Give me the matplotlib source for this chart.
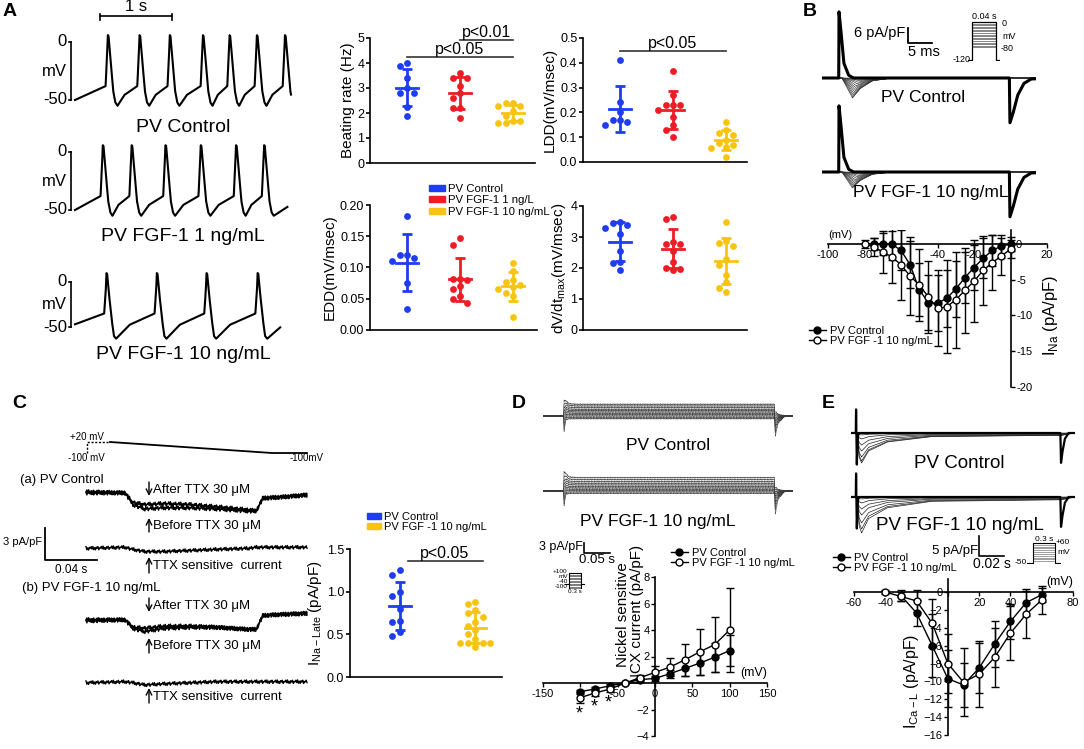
import numpy as np
import matplotlib.pyplot as plt
from matplotlib.patches import Patch
from matplotlib.lines import Line2D

plt.rcParams['font.family'] = ['Liberation Sans', 'DejaVu Sans']
plt.rcParams['axes.linewidth'] = 1.2

W, H = 1084, 749
BLUE, RED, YEL = '#1e3cf0', '#ee1c25', '#f7c511'

#%% data -------------------------------------------------------------
groups3 = ['PV Control', 'PV FGF-1 1 ng/L', 'PV FGF-1 10 ng/mL']

beat_ctrl = [4.0, 3.9, 3.4, 3.0, 2.8, 2.8, 2.25, 1.9]
beat_1ng = [3.6, 3.4, 3.4, 3.1, 2.8, 2.6, 2.2, 2.2, 1.8]
beat_10ng = [2.4, 2.4, 2.3, 2.3, 2.1, 1.9, 1.7, 1.7, 1.6, 1.6]

ldd_ctrl = [0.41, 0.24, 0.20, 0.17, 0.17, 0.16, 0.15]
ldd_1ng = [0.365, 0.27, 0.23, 0.23, 0.23, 0.21, 0.18, 0.15, 0.13, 0.10]
ldd_10ng = [0.16, 0.13, 0.115, 0.11, 0.09, 0.075, 0.07, 0.06, 0.055, 0.02]

edd_ctrl = [0.183, 0.12, 0.12, 0.115, 0.11, 0.075, 0.033]
edd_1ng = [0.147, 0.136, 0.082, 0.082, 0.08, 0.07, 0.065, 0.054, 0.049, 0.043]
edd_10ng = [0.107, 0.095, 0.08, 0.077, 0.072, 0.068, 0.066, 0.059, 0.055, 0.02]

dvdt_ctrl = [3.5, 3.45, 3.4, 3.3, 3.1, 2.55, 2.2, 2.15, 1.93]
dvdt_1ng = [3.64, 3.58, 2.84, 2.78, 2.76, 2.55, 2.2, 2.0, 1.98, 1.93]
dvdt_10ng = [3.5, 2.88, 2.8, 2.7, 2.3, 2.1, 1.78, 1.55, 1.37, 1.21]

# action potential recordings: peak times (s), peak / trough / take-off voltages (mV)
ap_peaks = [[0.46, 0.90, 1.32, 1.78, 2.15, 2.53, 2.92],
            [0.39, 0.79, 1.26, 1.75, 2.24, 2.63],
            [0.44, 1.14, 1.83, 2.54]]
ap_end = [3.0, 2.95, 2.85]
ap_peak_mv = [8, 8, 12]
ap_trough_mv = [-55, -55, -63]
ap_takeoff_mv = [-38, -38, -35]
ap_names = ['PV Control', 'PV FGF-1 1 ng/mL', 'PV FGF-1 10 ng/mL']

# I_Na I-V (B)
na_v_ctrl = [-75, -70, -65, -60, -55, -50, -45, -40, -35, -30, -25, -20, -15, -10, -5, 0]
na_i_ctrl = [0, 0, 0, -0.9, -2.9, -6.4, -8.2, -8.3, -7.6, -6.3, -4.7, -3.3, -2.0, -0.9, -0.3, 0]
na_e_ctrl = [0.8, 1.5, 2.2, 2.8, 3.3, 3.7, 3.8, 3.9, 4.0, 3.9, 3.6, 3.2, 2.8, 2.2, 1.6, 1.0]
na_v_fgf = [-80, -75, -70, -65, -60, -55, -50, -45, -40, -35, -30, -25, -20, -15, -10, -5, 0]
na_i_fgf = [0, -0.4, -1.1, -1.8, -2.9, -4.5, -5.7, -7.4, -9.0, -8.8, -7.8, -6.5, -5.2, -3.7, -2.6, -1.7, -0.7]
na_e_fgf = [0.5, 1.3, 2.9, 3.6, 5.0, 5.5, 5.0, 5.0, 5.3, 6.5, 6.7, 6.0, 5.7, 4.8, 3.8, 2.6, 1.2]

# I_Na current families (B): peak amplitude (pA/pF) and time to peak (ms) of each sweep
na_fam_ctrl = [-0.2, -0.6, -1.1, -1.7, -2.3, -3.1, -3.8, -4.6, -5.4, -6.2, -6.9, -7.6, -8.0]
na_fam_fgf = [-0.2, -0.5, -0.9, -1.4, -1.9, -2.5, -3.1, -3.7, -4.3, -5.0, -5.5, -6.0, -6.4]
na_fam_tpk = [4.6, 4.4, 4.2, 4.0, 3.8, 3.6, 3.4, 3.3, 3.2, 3.1, 3.0, 2.9, 2.8]
na_steps = [-80, -75, -70, -65, -60, -55, -50, -45, -40, -35, -30, -25, -20, -15, -10, -5, 0]

# late I_Na (C)
nal_ctrl = [1.25, 1.2, 1.0, 0.95, 0.8, 0.66, 0.65, 0.53, 0.48]
nal_fgf = [0.88, 0.85, 0.78, 0.75, 0.7, 0.65, 0.6, 0.55, 0.5, 0.45, 0.4, 0.4, 0.4, 0.4, 0.35]

# TTX traces (C): knots (ms, pA/pF)
ttx_t = [0, 30, 36, 45, 60, 80, 100, 125, 131, 136, 150, 170]
ttx_after_a = [0.1, 0.0, -0.9, -1.1, -1.0, -1.1, -1.3, -1.6, -1.7, -0.5, -0.4, -0.2]
ttx_before_a = [0.0, 0.0, -1.1, -1.5, -1.4, -1.4, -1.5, -1.7, -1.7, -0.5, -0.4, -0.2]
ttx_after_b = [0.1, 0.1, -0.6, -0.7, -0.5, -0.5, -0.6, -0.8, -0.8, 0.5, 0.6, 0.7]
ttx_before_b = [0.0, 0.1, -0.7, -1.0, -0.7, -0.6, -0.6, -0.8, -0.8, 0.5, 0.6, 0.7]
wiggle = [0, 0.3, -0.15, 0.35, -0.25, 0.1, -0.3, 0.2, -0.05, 0.3, -0.3, 0.05]

# NCX I-V (D)
ncx_v = [-100, -80, -60, -40, -20, 0, 20, 40, 60, 80, 100]
ncx_ctrl = [-0.65, -0.45, -0.2, 0.0, 0.25, 0.35, 0.7, 1.1, 1.5, 1.95, 2.45]
ncx_ctrl_e = [0.15, 0.15, 0.1, 0.1, 0.15, 0.2, 0.3, 0.6, 0.9, 1.1, 1.2]
ncx_fgf = [-1.1, -0.75, -0.45, 0.0, 0.4, 0.8, 1.2, 1.75, 2.35, 2.9, 4.0]
ncx_fgf_e = [0.4, 0.25, 0.2, 0.1, 0.2, 0.45, 0.7, 1.2, 1.75, 2.1, 3.2]
ncx_star_v = [-100, -80, -60]
# NCX sweep families (D): steady level of each sweep (pA/pF)
ncx_fam_ctrl = [3.5, 3.0, 2.5, 2.0, 1.6, 1.2, 0.8, 0.4, 0.0, -0.4, -0.8]
ncx_fam_fgf = [4.0, 3.4, 2.8, 2.3, 1.8, 1.3, 0.9, 0.5, 0.1, -0.3, -0.7]

# I_Ca-L I-V (E)
ca_v_ctrl = [-30, -20, -10, 0, 10, 20, 30, 40, 50, 60]
ca_i_ctrl = [-0.4, -2.35, -6.0, -9.7, -10.4, -8.5, -5.8, -3.3, -1.2, -0.3]
ca_e_ctrl = [0.6, 1.5, 3.5, 3.2, 2.5, 2.8, 2.6, 2.0, 1.5, 0.8]
ca_v_fgf = [-40, -30, -20, -10, 0, 10, 20, 30, 40, 50, 60]
ca_i_fgf = [0, -0.5, -1.0, -3.5, -8.0, -10.1, -9.2, -7.3, -4.6, -2.5, -0.9]
ca_e_fgf = [0.2, 0.5, 1.2, 2.7, 3.3, 3.8, 3.7, 3.3, 3.0, 2.6, 1.6]
# I_Ca-L sweep families (E): peak amplitude of each sweep (pA/pF)
ca_fam_ctrl = [-0.5, -1.5, -3.0, -4.5, -6.0, -7.0, -7.5]
ca_fam_fgf = [-0.5, -1.5, -3.0, -4.5, -6.5, -8.0, -9.0]

#%% helpers ------------------------------------------------------------
fig = plt.figure(figsize=(W / 100, H / 100), dpi=100)
ov = fig.add_axes([0, 0, 1, 1], zorder=10)
ov.set_xlim(0, W)
ov.set_ylim(H, 0)
ov.axis('off')
ov.patch.set_alpha(0)


def cal_axes(xa, xb, ya, yb, xlim, ylim):
    """axes placed so that the pixel/value pairs xa, xb, ya, yb line up"""
    sx = (xb[0] - xa[0]) / (xb[1] - xa[1])
    sy = (yb[0] - ya[0]) / (yb[1] - ya[1])
    x0 = xa[0] + (xlim[0] - xa[1]) * sx
    x1 = xa[0] + (xlim[1] - xa[1]) * sx
    yt = ya[0] + (ylim[1] - ya[1]) * sy
    yb_ = ya[0] + (ylim[0] - ya[1]) * sy
    ax = fig.add_axes([x0 / W, 1 - yb_ / H, (x1 - x0) / W, (yb_ - yt) / H])
    ax.set_xlim(xlim)
    ax.set_ylim(ylim)
    ax.patch.set_alpha(0)
    return ax


def bare(ax):
    ax.axis('off')
    return ax


def swarm(vals, px_per_unit, dx, dot=7):
    vals = np.asarray(vals, float)
    xs = np.zeros(len(vals))
    placed = []
    for i in np.argsort(vals)[::-1]:
        for k in [0, -1, 1, -2, 2, -3, 3]:
            if all(kk != k or abs(vals[i] - vv) * px_per_unit >= dot for kk, vv in placed):
                break
        placed.append((k, vals[i]))
        xs[i] = k * dx
    return xs


def dot_plot(ax, data, colors, ypx, dx, mw, ylabel, ticks, fmt):
    for i, (vals, c) in enumerate(zip(data, colors)):
        x0 = i + 1
        ax.scatter(x0 + swarm(vals, ypx, dx), vals, s=24, color=c, zorder=3, lw=0)
        m, sd = np.mean(vals), np.std(vals, ddof=1)
        ax.plot([x0 - mw, x0 + mw], [m, m], color=c, lw=2)
        ax.errorbar(x0, m, yerr=sd, color=c, capsize=3.8, elinewidth=2, capthick=2)
    for s in ['top', 'right']:
        ax.spines[s].set_visible(False)
    ax.set_xticks([])
    ax.set_yticks(ticks)
    ax.set_yticklabels([fmt.format(t) for t in ticks])
    ax.tick_params(axis='y', length=3, width=1.2, labelsize=9, pad=1)
    ax.set_ylabel(ylabel, fontsize=11, labelpad=2)


def bracket(ax, x0, x1, y, label):
    ax.plot([x0, x1], [y, y], color='#333333', lw=1.2, clip_on=False)
    ax.text((x0 + x1) / 2, y, label, ha='center', va='bottom', fontsize=11.5)


def iv_axes(ax):
    for s in ['top', 'right']:
        ax.spines[s].set_visible(False)
    ax.spines['left'].set_position(('data', 0))
    ax.spines['bottom'].set_position(('data', 0))
    ax.tick_params(length=3, width=1, labelsize=8, pad=1)


def iv_series(ax, v, i, e, filled):
    ax.errorbar(v, i, yerr=e, color='black', lw=1, capsize=3, capthick=1,
                marker='o', ms=5, mfc='black' if filled else 'white', mec='black',
                mew=1, zorder=3 if filled else 4)


def iv_legend(ax, x, y):
    ax.legend(handles=[Line2D([], [], color='black', marker='o', ms=5, lw=1),
                       Line2D([], [], color='black', marker='o', ms=5, lw=1, mfc='white')],
              labels=['PV Control', 'PV FGF -1 10 ng/mL'], loc='upper left',
              bbox_to_anchor=(x / W, 1 - y / H), bbox_transform=fig.transFigure,
              frameon=False, handlelength=1.6, handletextpad=0.3, labelspacing=0.05,
              borderpad=0, fontsize=8)


#%% Panel A ------------------------------------------------------------
ov.text(3, 12, 'A', fontsize=14, fontweight='bold', va='center')

ap_cal = [((42, 0), (100, -50)), ((152, 0), (210, -50)), ((282, 0), (327, -50))]
ap_label_mv = [-74, -73, -81]
for k in range(3):
    ax = bare(cal_axes((75, 0), (147, 1), ap_cal[k][0], ap_cal[k][1],
                       (-0.1, 3.05), (-85, 18)))
    pk = ap_peaks[k]
    kt, kv = [], []
    first_gap = pk[0] - 0.04
    kt += [0.0, first_gap * 0.5]
    kv += [ap_takeoff_mv[k] - 12, ap_takeoff_mv[k] - 6]
    for j, p in enumerate(pk):
        kt += [p - 0.035, p - 0.012, p - 0.004, p + 0.006, p + 0.03, p + 0.07, p + 0.10, p + 0.13]
        kv += [ap_takeoff_mv[k], -8, ap_peak_mv[k] - 2, ap_peak_mv[k] - 3, -12, -42,
               ap_trough_mv[k] + 3, ap_trough_mv[k]]
        nxt = pk[j + 1] - 0.035 if j + 1 < len(pk) else None
        if nxt is not None:
            kt += [p + 0.13 + (nxt - p - 0.13) * 0.35]
            kv += [ap_trough_mv[k] + (ap_takeoff_mv[k] - ap_trough_mv[k]) * 0.55]
    kt += [ap_end[k]]
    kv += [ap_trough_mv[k] + (ap_takeoff_mv[k] - ap_trough_mv[k]) * 0.45]
    tt = np.linspace(0, ap_end[k], 1500)
    ax.plot(tt, np.interp(tt, kt, kv), color='black', lw=1.5)
    # voltage scale bar
    ax.plot([-0.06, -0.06], [0, -50], color='black', lw=1.2, clip_on=False)
    ax.plot([-0.09, -0.06], [0, 0], color='black', lw=1.2, clip_on=False)
    ax.plot([-0.09, -0.06], [-50, -50], color='black', lw=1.2, clip_on=False)
    ax.text(-0.11, 0, '0', ha='right', va='center', fontsize=12)
    ax.text(-0.11, -25, 'mV', ha='right', va='center', fontsize=12)
    ax.text(-0.11, -50, '-50', ha='right', va='center', fontsize=12)
    ax.text(1.5, ap_label_mv[k], ap_names[k], ha='center', va='center', fontsize=14)
    if k == 0:
        ax.plot([0.35, 1.35], [22, 22], color='black', lw=1.2, clip_on=False)
        ax.plot([0.35, 0.35], [19, 24], color='black', lw=1.2, clip_on=False)
        ax.plot([1.35, 1.35], [19, 24], color='black', lw=1.2, clip_on=False)
        ax.text(0.85, 24, '1 s', ha='center', va='bottom', fontsize=12)

cols3 = [BLUE, RED, YEL]
ax = cal_axes((407, 1), (460, 2), (163, 0), (38, 5), (0.3, 3.42), (0, 5))
dot_plot(ax, [beat_ctrl, beat_1ng, beat_10ng], cols3, 25, 0.14, 0.2,
         'Beating rate (Hz)', [0, 1, 2, 3, 4, 5], '{:g}')
bracket(ax, 1, 3, 4.25, 'p<0.05')
bracket(ax, 2, 3, 4.9, 'p<0.01')

ax = cal_axes((620, 1), (673, 2), (162, 0), (38, 0.5), (0.3, 3.4), (0, 0.5))
dot_plot(ax, [ldd_ctrl, ldd_1ng, ldd_10ng], cols3, 248, 0.14, 0.2,
         'LDD(mV/msec)', [0, 0.1, 0.2, 0.3, 0.4, 0.5], '{:.1f}')
bracket(ax, 1, 3, 0.447, 'p<0.05')

ax = cal_axes((407, 1), (460, 2), (330, 0), (205, 0.2), (0.3, 3.45), (0, 0.2))
dot_plot(ax, [edd_ctrl, edd_1ng, edd_10ng], cols3, 625, 0.14, 0.2,
         'EDD(mV/msec)', [0, 0.05, 0.1, 0.15, 0.2], '{:.2f}')

ax = cal_axes((620, 1), (673, 2), (330, 0), (206, 4), (0.3, 3.4), (0, 4))
dot_plot(ax, [dvdt_ctrl, dvdt_1ng, dvdt_10ng], cols3, 31, 0.14, 0.2,
         'dV/dt$_{\\mathregular{max}}$(mV/msec)', [0, 1, 2, 3, 4], '{:g}')

fig.legend(handles=[Patch(color=c) for c in cols3], labels=groups3,
           loc='upper left', bbox_to_anchor=(423 / W, 1 - 178 / H), frameon=False,
           handlelength=1.4, handleheight=0.45, handletextpad=0.3,
           labelspacing=0.15, borderpad=0, fontsize=8.2)

#%% Panel B ------------------------------------------------------------
ov.text(803, 12, 'B', fontsize=14, fontweight='bold', va='center')


def na_family(ax, amps):
    t = np.linspace(-3.5, 41, 3000)
    # sodium currents
    for a, tp in zip(amps, na_fam_tpk):
        kt = [-5, 0.6, tp - 1.2, tp, tp + 1.5, tp + 4, tp + 8, 45]
        kv = [0, 0, a * 0.45, a, a * 0.55, a * 0.15, 0, 0]
        ax.plot(t, np.interp(t, kt, kv), color='#333333', lw=0.45)
    # capacitive transients
    cap_t = [-5, -0.05, 0.0, 0.35, 1.0, 2.0, 3.0, 35.5, 35.6, 36.2, 37.2, 38.5, 40.0, 45]
    cap_v = [0, 0, 26.5, 20, 6, 1.1, 0, 0, -18, -14.5, -7, -2.2, -0.4, 0]
    ax.plot(t, np.interp(t, cap_t, cap_v), color='black', lw=2.2)


axB1 = bare(cal_axes((839, 0), (863, 5), (78, 0), (63, 6), (-3.5, 41), (-20, 28)))
na_family(axB1, na_fam_ctrl)
axB1.text(17.5, -7.6, 'PV Control', ha='center', va='center', fontsize=12.5)
axB2 = bare(cal_axes((839, 0), (863, 5), (172, 0), (157, 6), (-3.5, 41), (-20, 28)))
na_family(axB2, na_fam_fgf)
axB2.text(19.2, -8, 'PV FGF-1 10 ng/mL', ha='center', va='center', fontsize=12.5)
# scale bar
axB1.plot([14.4, 14.4, 19.4], [20, 14, 14], color='black', lw=1.3, clip_on=False)
axB1.text(13.9, 18, '6 pA/pF', ha='right', va='center', fontsize=10.5)
axB1.text(17.7, 13, '5 ms', ha='center', va='top', fontsize=10.5)

# protocol inset
axBp = bare(cal_axes((972, 0), (996, 40), (60, -120), (22, 0), (-6, 46), (-122, 2)))
for v in na_steps:
    axBp.plot([0, 0, 40, 40], [-120, v, v, -120], color='#555555', lw=0.5)
axBp.plot([-6, 0, 0, 40, 40, 46], [-120, -120, 0, 0, -120, -120], color='black', lw=0.9)
axBp.text(-2, -120, '-120', ha='right', va='center', fontsize=6.5)
axBp.text(20, 3, '0.04 s', ha='center', va='bottom', fontsize=6.5)
axBp.text(50, -5, '0', ha='left', va='center', fontsize=6.5)
axBp.text(50, -45, 'mV', ha='left', va='center', fontsize=6.5)
axBp.text(48, -85, '-80', ha='left', va='center', fontsize=6.5)

axB = cal_axes((828, -100), (1047, 20), (244, 0), (387, -20), (-100, 20), (-20, 2))
iv_axes(axB)
axB.spines['left'].set_visible(False)
axB.spines['right'].set_visible(True)
axB.spines['right'].set_position(('data', 0))
axB.yaxis.set_ticks_position('right')
axB.set_xticks([-100, -80, -60, -40, -20, 0, 20])
axB.set_xticklabels(['-100', '-80', '', '-40', '-20', '', '20'])
axB.set_yticks([0, -5, -10, -15, -20])
axB.set_yticklabels(['0', '-5', '-10', '-15', '-20'])
iv_series(axB, na_v_fgf, na_i_fgf, na_e_fgf, False)
iv_series(axB, na_v_ctrl, na_i_ctrl, na_e_ctrl, True)
axB.text(-100, 0.6, '(mV)', ha='left', va='bottom', fontsize=8)
axB.text(22, -10, 'I$_{\\mathregular{Na}}$ (pA/pF)', rotation=90, ha='center',
         va='center', fontsize=12)
iv_legend(axB, 803, 320)

#%% Panel C ------------------------------------------------------------
ov.text(12, 403, 'C', fontsize=14, fontweight='bold', va='center')

# ramp protocol
axCp = bare(cal_axes((110, 0), (272, 125), (442, 20), (453, -100), (-20, 165), (-110, 30)))
axCp.plot([-18, -18, 0], [-100, 20, 20], color='black', lw=1, ls=(0, (1.5, 1.2)))
axCp.plot([0, 125, 152], [20, -100, -100], color='black', lw=1.3)
axCp.text(-18, 22, '+20 mV', ha='center', va='bottom', fontsize=7)
axCp.text(-18, -103, '-100 mV', ha='center', va='top', fontsize=7)
axCp.text(152, -103, '-100mV', ha='center', va='top', fontsize=7)

axC1 = bare(cal_axes((86, 0), (138, 40), (493, 0), (525, -3), (-40, 172), (-20, 1.6)))
tt = np.linspace(0, 170, 260)
wg = np.resize(wiggle, len(tt))
off_a, off_a_d, off_b, off_b_d = 0.0, -5.1, -12.0, -17.7
for after, before, o1, o2 in [(ttx_after_a, ttx_before_a, off_a, off_a_d),
                               (ttx_after_b, ttx_before_b, off_b, off_b_d)]:
    ya = np.interp(tt, ttx_t, after)
    yb = np.interp(tt, ttx_t, before)
    axC1.plot(tt, ya + o1 + wg * 0.6, color='black', lw=1)
    axC1.plot(tt, yb + o1 + np.roll(wg, 3) * 0.6, color='black', lw=1)
    axC1.plot(tt, yb - ya + o2 + np.roll(wg, 5) * 0.5, color='black', lw=1)
# scale bar
axC1.plot([-31.5, -31.5, 8.5], [-3.3, -6.3, -6.3], color='black', lw=1.3)
axC1.text(-34, -4.6, '3 pA/pF', ha='right', va='center', fontsize=8)
axC1.text(-11.5, -6.7, '0.04 s', ha='center', va='top', fontsize=8.5)

ov.text(20, 480, '(a) PV Control', fontsize=9.5, va='center')
ov.text(22, 588, '(b) PV FGF-1 10 ng/mL', fontsize=9.5, va='center')
arrow_rows = [(482, 496, 'down', 'After TTX 30 μM'),
              (518, 532, 'up', 'Before TTX 30 μM'),
              (557, 573, 'up', 'TTX sensitive  current'),
              (598, 612, 'down', 'After TTX 30 μM'),
              (638, 653, 'up', 'Before TTX 30 μM'),
              (688, 703, 'up', 'TTX sensitive  current')]
for y0, y1, d, lab in arrow_rows:
    a, b = (y0, y1) if d == 'down' else (y1, y0)
    ov.annotate('', xy=(149, b), xytext=(149, a),
                arrowprops=dict(arrowstyle='->', lw=1, color='black', shrinkA=0, shrinkB=0))
    ov.text(153, (y0 + y1) / 2 + 1, lab, fontsize=9.5, va='center')

axC = cal_axes((400, 1), (475, 2), (677, 0), (549, 1.5), (0.33, 2.36), (0, 1.5))
dot_plot(axC, [nal_ctrl, nal_fgf], [BLUE, YEL], 85, 0.1, 0.14,
         'I$_{\\mathregular{Na-Late}}$ (pA/pF)', [0, 0.5, 1.0, 1.5], '{:.1f}')
bracket(axC, 1.1, 2.1, 1.36, 'p<0.05')
axC.legend(handles=[Patch(color=BLUE), Patch(color=YEL)],
           labels=['PV Control', 'PV FGF -1 10 ng/mL'], loc='upper left',
           bbox_to_anchor=(361 / W, 1 - 506 / H), bbox_transform=fig.transFigure,
           frameon=False, handlelength=1.3, handleheight=0.45, handletextpad=0.3,
           labelspacing=0.05, borderpad=0, fontsize=8)

#%% Panel D ------------------------------------------------------------
ov.text(512, 403, 'D', fontsize=14, fontweight='bold', va='center')


def ncx_family(ax, levels):
    t = np.linspace(-40, 440, 900)
    for j, lv in enumerate(levels):
        kt = [-40, -0.5, 0, 4, 10, 25, 405, 406, 412, 425, 440]
        kv = [0, 0, (lv - 1.4) * 2.2, lv * 1.3, lv * 1.05, lv, lv, -lv * 1.8, -lv * 0.6, 0, 0]
        y = np.interp(t, kt, kv) + np.roll(np.resize(wiggle, len(t)), j) * 0.6
        ax.plot(t, y, color='#3a3a3a', lw=0.3)


axD1 = bare(cal_axes((564, 0), (590, 50), (416, 0), (406, 3), (-40, 440), (-8, 8)))
ncx_family(axD1, ncx_fam_ctrl)
axD1.text(200, -6.5, 'PV Control', ha='center', va='top', fontsize=12.5)
axD2 = bare(cal_axes((564, 0), (590, 50), (491, 0), (481, 3), (-40, 440), (-8, 8)))
ncx_family(axD2, ncx_fam_fgf)
axD2.text(180, -6.8, 'PV FGF-1 10 ng/mL', ha='center', va='top', fontsize=12.5)

axDs = bare(cal_axes((584, 0), (610, 50), (553, 0), (543, 3), (-10, 60), (-1, 4)))
axDs.plot([0, 0, 50], [3, 0, 0], color='black', lw=1.2)
axDs.text(-2, 1.8, '3 pA/pF', ha='right', va='center', fontsize=9)
axDs.text(25, -0.3, '0.05 s', ha='center', va='top', fontsize=9.5)

axDp = bare(cal_axes((569, 0), (581, 300), (588, -100), (573, 100), (-100, 400), (-110, 110)))
for v in ncx_v:
    axDp.plot([0, 300], [v, v], color='#666666', lw=0.6)
axDp.plot([0, 0, 300, 300], [-100, 100, 100, -100], color='black', lw=0.8)
axDp.plot([-250, 0], [-40, -40], color='black', lw=0.8)
axDp.plot([300, 550], [-40, -40], color='black', lw=0.8)
axDp.text(-30, 118, '+100', ha='right', va='center', fontsize=4.6)
axDp.text(-30, 55, 'mV', ha='right', va='center', fontsize=4.6)
axDp.text(-30, -12, '-40', ha='right', va='center', fontsize=4.6)
axDp.text(-30, -85, '-100', ha='right', va='center', fontsize=4.6)
axDp.text(150, -112, '0.3 s', ha='center', va='top', fontsize=4.6)

axD = cal_axes((543, -150), (767, 150), (683, 0), (577, 8), (-150, 150), (-4, 8))
iv_axes(axD)
axD.set_xticks([-150, -100, -50, 0, 50, 100, 150])
axD.set_xticklabels(['-150', '', '-50', '0', '50', '100', '150'])
axD.set_yticks([-4, -2, 2, 4, 6, 8])
iv_series(axD, ncx_v, ncx_ctrl, ncx_ctrl_e, True)
iv_series(axD, ncx_v, ncx_fgf, ncx_fgf_e, False)
for v in ncx_star_v:
    i = ncx_v.index(v)
    axD.text(v - 2, ncx_fgf[i] - ncx_fgf_e[i] - 0.2, '*', ha='center', va='top', fontsize=13)
axD.text(150, 0.3, '(mV)', ha='right', va='bottom', fontsize=9)
axD.text(-33, 5.2, 'Nickel sensitive\nNCX current (pA/pF)', rotation=90, ha='center',
         va='center', fontsize=11, linespacing=1.0)
iv_legend(axD, 665, 542)

#%% Panel E ------------------------------------------------------------
ov.text(822, 403, 'E', fontsize=14, fontweight='bold', va='center')


def ca_family(ax, amps):
    t = np.linspace(-4, 175, 1500)
    for a in amps:
        kt = [-4, 0.8, 2.5, 4.5, 10, 25, 60, 164, 175]
        kv = [0, 0, a * 0.8, a, a * 0.6, a * 0.3, a * 0.12, a * 0.08, 0]
        ax.plot(t, np.interp(t, kt, kv), color='#222222', lw=0.5)
    cap_t = [-4, -0.1, 0.0, 0.6, 1.2, 2.0, 3.0, 163.5, 164, 165, 167, 170, 175]
    cap_v = [0, 0, 7.5, -8.5, -2, 0, 0, 0, -7.5, -5, -1.5, 0, 0]
    ax.plot(t, np.interp(t, cap_t, cap_v), color='black', lw=1.6)


axE1 = bare(cal_axes((856, 0), (881, 20), (433, 0), (413, 5), (-4, 175), (-10, 9)))
ca_family(axE1, ca_fam_ctrl)
axE1.text(83, -5.5, 'PV Control', ha='center', va='top', fontsize=13.5)
axE2 = bare(cal_axes((856, 0), (881, 20), (497, 0), (477, 5), (-4, 175), (-10, 9)))
ca_family(axE2, ca_fam_fgf)
axE2.text(83, -5.0, 'PV FGF-1 10 ng/mL', ha='center', va='top', fontsize=13.5)

axEs = bare(cal_axes((979, 0), (1004, 20), (556, 0), (536, 5), (-5, 25), (-1, 6)))
axEs.plot([0, 0, 20], [5, 0, 0], color='black', lw=1.2)
axEs.text(-1, 1.2, '5 pA/pF', ha='right', va='center', fontsize=9.5)
axEs.text(10, -0.3, '0.02 s', ha='center', va='top', fontsize=10)

axEp = bare(cal_axes((1033, 0), (1055, 300), (563, -50), (543, 60), (-80, 380), (-55, 65)))
for v in ca_v_fgf:
    axEp.plot([0, 300], [v, v], color='#777777', lw=0.5)
axEp.plot([-80, 0, 0, 300, 300, 380], [-50, -50, 60, 60, -50, -50], color='black', lw=0.8)
axEp.text(150, 62, '0.3 s', ha='center', va='bottom', fontsize=6)
axEp.text(310, 62, '+60', ha='left', va='center', fontsize=6)
axEp.text(330, 10, 'mV', ha='left', va='center', fontsize=6)
axEp.text(-90, -50, '-50', ha='right', va='center', fontsize=6)

axE = cal_axes((854, -60), (1073, 80), (592, 0), (735, -16), (-60, 80), (-16, 1.5))
iv_axes(axE)
axE.set_xticks([-60, -40, -20, 0, 20, 40, 60, 80])
axE.set_xticklabels(['-60', '-40', '', '', '20', '40', '', '80'])
axE.set_yticks([0, -2, -4, -6, -8, -10, -12, -14, -16])
axE.tick_params(axis='y', pad=1)
iv_series(axE, ca_v_ctrl, ca_i_ctrl, ca_e_ctrl, True)
iv_series(axE, ca_v_fgf, ca_i_fgf, ca_e_fgf, False)
axE.text(80, 0.5, '(mV)', ha='right', va='bottom', fontsize=9)
axE.text(-23, -10, 'I$_{\\mathregular{Ca-L}}$ (pA/pF)', rotation=90, ha='center',
         va='center', fontsize=11.5)
iv_legend(axE, 827, 547)

fig.savefig('out.png', dpi=100)
